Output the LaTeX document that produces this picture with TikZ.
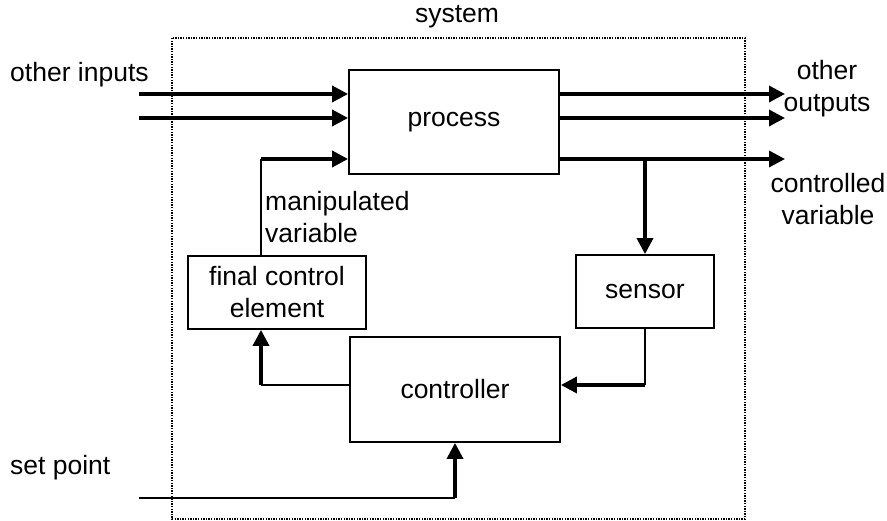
\documentclass[tikz,border=0pt]{standalone}
\usepackage{fontspec}
\setmainfont{Liberation Sans}
\usetikzlibrary{arrows.meta}
\begin{document}
\begin{tikzpicture}[x=1pt,y=-1pt,
  box/.style={draw,line width=1.8pt,rectangle,inner sep=0pt,align=center},
  lbl/.style={align=center,inner sep=0pt},
  thinln/.style={line width=1.8pt},
  thickarr/.style={line width=3.4pt,-{Triangle[length=16pt,width=16pt]}},
  font=\fontsize{26.5}{32}\selectfont]
\useasboundingbox (0,0) rectangle (887,521);
% system border
\draw[line width=2pt,dash pattern=on 1.4pt off 1.2pt] (172,38) rectangle (745,519);
\node[lbl] (sys) at (457,17) {system};
% blocks
\node[box,minimum width=210pt,minimum height=104pt] (proc) at (454,122) {process};
\node[box,minimum width=178pt,minimum height=73pt] (fce) at (277,292.5) {final control\\element};
\node[box,minimum width=138pt,minimum height=73pt] (sens) at (645,291.5) {sensor};
\node[box,minimum width=210pt,minimum height=105pt] (ctl) at (455,389.5) {controller};
% labels
\node[lbl,anchor=west] (oin) at (10,75) {other inputs};
\node[lbl] (oout) at (827,89) {other\\outputs};
\node[lbl] (cvar) at (828,199) {controlled\\variable};
\node[lbl,anchor=west,align=left] (mvar) at (265,217) {manipulated\\variable};
\node[lbl,anchor=west] (spl) at (10,468) {set point};
% coordinates
\coordinate (in1) at (139,94);
\coordinate (in2) at (139,118);
\coordinate (mv) at (261,159);
\coordinate (out1) at (785,94);
\coordinate (out2) at (785,118);
\coordinate (out3) at (785,159);
\coordinate (br) at (645,159);
\coordinate (fb) at (645,385);
\coordinate (cf) at (261,385);
\coordinate (sp) at (139,498);
\coordinate (spc) at (455,498);
% inputs
\draw[thickarr] (in1) -- (in1 -| proc.west);
\draw[thickarr] (in2) -- (in2 -| proc.west);
% manipulated variable
\draw[thinln] (fce.north -| mv) -- (mv);
\draw[thickarr] (mv) -- (mv -| proc.west);
% outputs
\draw[thickarr] (out1 -| proc.east) -- (out1);
\draw[thickarr] (out2 -| proc.east) -- (out2);
\draw[thickarr] (out3 -| proc.east) -- (out3);
\draw[thickarr] (br) -- (sens.north);
% sensor to controller
\draw[thinln] (sens.south) -- (fb);
\draw[thickarr] (fb) -- (fb -| ctl.east);
% controller to final control element
\draw[thinln] (cf -| ctl.west) -- (cf);
\draw[thickarr] (cf) -- (cf |- fce.south);
% set point
\draw[thinln] (sp) -- (spc);
\draw[thickarr] (spc) -- (ctl.south);
\end{tikzpicture}
\end{document}
